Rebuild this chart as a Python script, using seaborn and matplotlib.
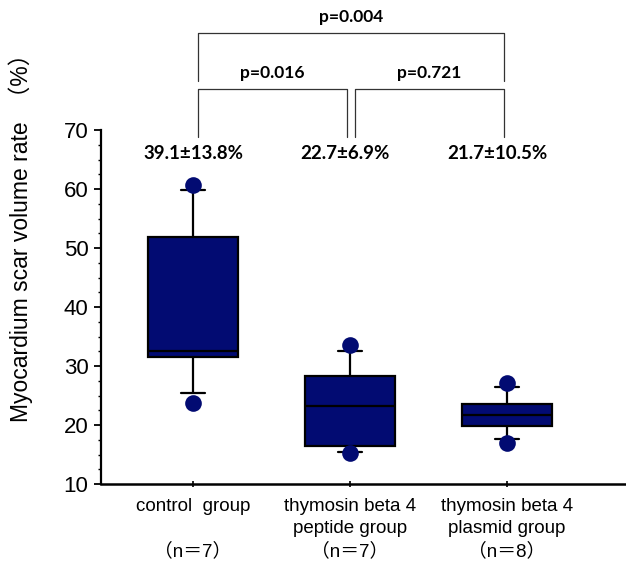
import pandas as pd
import matplotlib.pyplot as plt
from matplotlib.ticker import MultipleLocator
import seaborn as sns

# group labels shown under the x axis
groups = ["control  group\n\n（n＝7）",
          "thymosin beta 4\npeptide group\n（n＝7）",
          "thymosin beta 4\nplasmid group\n（n＝8）"]

# box summary (%)
whisker_low = [25.5, 15.5, 17.6]
q1 = [31.5, 16.4, 19.8]
median = [32.6, 23.3, 21.7]
q3 = [51.8, 28.3, 23.6]
whisker_high = [59.8, 32.6, 26.4]

# extreme values drawn as dots
min_vals = [23.8, 15.3, 16.9]
max_vals = [60.7, 33.6, 27.2]

# mean ± sd labels
stat_labels = ["39.1±13.8%", "22.7±6.9%", "21.7±10.5%"]

# pairwise comparisons (group a, group b, label, level)
comparisons = [(0, 2, "p=0.004", 1), (0, 1, "p=0.016", 0), (1, 2, "p=0.721", 0)]

NAVY = "#020b72"

sns.set_style("ticks", {"axes.edgecolor": "black", "text.color": "black",
                        "axes.labelcolor": "black", "xtick.color": "black",
                        "ytick.color": "black"})
plt.rcParams["font.family"] = ["Liberation Sans", "Noto Sans CJK JP"]

# five summary values per group -> quartiles come out exactly with whis=(0, 100)
box_df = pd.DataFrame({
    "group": [g for g in groups for _ in range(5)],
    "value": [v for i in range(3) for v in
              (whisker_low[i], q1[i], median[i], q3[i], whisker_high[i])],
})
dot_df = pd.DataFrame({
    "group": groups + groups,
    "value": max_vals + min_vals,
})

fig = plt.figure(figsize=(6.26, 5.67), dpi=100)
ax = fig.add_axes([101 / 626, 1 - 484 / 567, 525 / 626, 354 / 567])

sns.boxplot(data=box_df, x="group", y="value", order=groups, color=NAVY,
            saturation=1, width=0.57, whis=(0, 100), fliersize=0,
            linecolor="black", linewidth=1.6, capwidths=0.155, ax=ax)
sns.stripplot(data=dot_df, x="group", y="value", order=groups, color=NAVY,
              jitter=False, size=12, linewidth=0, zorder=4, ax=ax)

ax.set_xlim(-0.586, 2.758)
ax.set_ylim(10, 70)
ax.yaxis.set_major_locator(MultipleLocator(10))
ax.yaxis.set_minor_locator(MultipleLocator(2.5))
ax.tick_params(axis="y", which="major", length=5, width=1.3, labelsize=16, pad=4)
ax.tick_params(axis="y", which="minor", length=2.5, width=1.0)
ax.tick_params(axis="x", direction="inout", length=4, width=1.2,
               labelsize=13.5, pad=8)
for lab in ax.get_xticklabels():
    lab.set_linespacing(1.4)

ax.set_xlabel("")
ax.set_ylabel("Myocardium scar volume rate  （%）", fontsize=16.5)
ax.yaxis.set_label_coords(-0.13, 0.71)

sns.despine(ax=ax)
ax.spines["left"].set_linewidth(1.6)
ax.spines["bottom"].set_linewidth(1.8)

# mean ± sd above each group
for i, s in enumerate(stat_labels):
    ax.text(i - 0.03 * i, 66.1, s, ha="center", va="center", fontsize=13.5,
            fontweight="bold", family=["Lato", "DejaVu Sans"])

# significance brackets
levels = {0: (68.8, 76.9), 1: (78.3, 86.4)}
for a, b, label, lvl in comparisons:
    y0, y1 = levels[lvl]
    x0, x1 = a + 0.03, b - 0.02
    ax.plot([x0, x0, x1, x1], [y0, y1, y1, y0], color="#333333", lw=0.9,
            clip_on=False)
    ax.text((x0 + x1) / 2, y1 + 2.8, label, ha="center", va="center",
            fontsize=12.5, fontweight="bold", family=["Lato", "DejaVu Sans"])

fig.savefig("out.png", dpi=100)
plt.close(fig)
